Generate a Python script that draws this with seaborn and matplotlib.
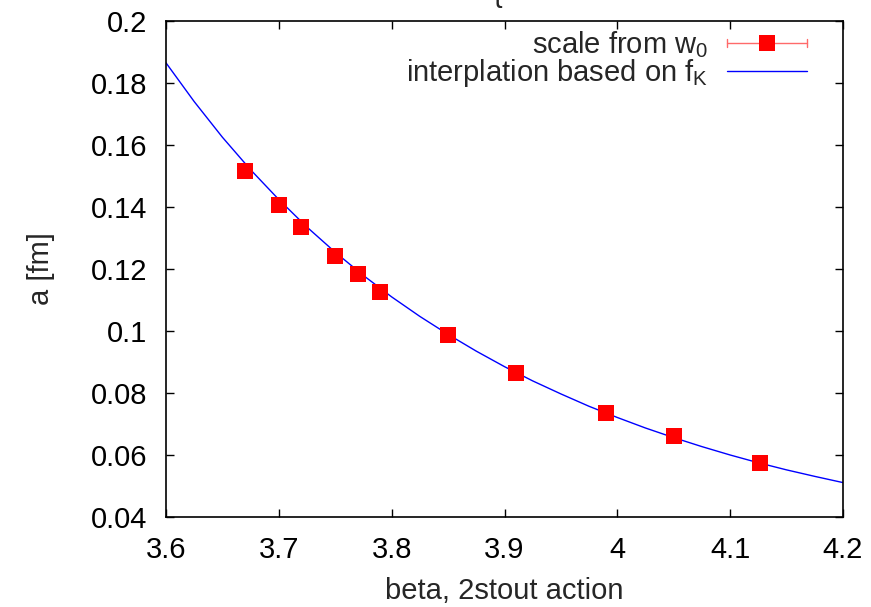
import numpy as np
import pandas as pd
import matplotlib
matplotlib.use("Agg")
import matplotlib.pyplot as plt
from matplotlib.legend_handler import HandlerBase
from matplotlib.lines import Line2D
import seaborn as sns

# ---- data ----
beta_pts = [3.67, 3.70, 3.72, 3.75, 3.77, 3.79, 3.85, 3.91, 3.99, 4.05, 4.126]
a_pts = [0.1516, 0.1406, 0.1335, 0.1242, 0.1184, 0.1126, 0.0987, 0.0865, 0.0735, 0.0661, 0.0574]
# error bars are hidden behind the markers in the reference
a_err = [0.0, 0.0, 0.0, 0.0, 0.0, 0.0, 0.0, 0.0, 0.0, 0.0, 0.0]

beta_curve = [3.600, 3.625, 3.650, 3.675, 3.700, 3.725, 3.750, 3.775, 3.800,
              3.825, 3.850, 3.875, 3.900, 3.925, 3.950, 3.975, 4.000, 4.025,
              4.050, 4.075, 4.100, 4.125, 4.150, 4.175, 4.200]
a_curve = [0.1865, 0.1740, 0.1625, 0.1520, 0.1424, 0.1335, 0.1254, 0.1179, 0.1110,
           0.1047, 0.0989, 0.0935, 0.0885, 0.0839, 0.0797, 0.0757, 0.0721, 0.0687,
           0.0656, 0.0627, 0.0600, 0.0575, 0.0552, 0.0531, 0.0511]

x_ticks = [3.6, 3.7, 3.8, 3.9, 4.0, 4.1, 4.2]
x_ticklabels = ["3.6", "3.7", "3.8", "3.9", "4", "4.1", "4.2"]
y_ticks = [0.04, 0.06, 0.08, 0.10, 0.12, 0.14, 0.16, 0.18, 0.20]
y_ticklabels = ["0.04", "0.06", "0.08", "0.1", "0.12", "0.14", "0.16", "0.18", "0.2"]

label_pts = r"scale from w$_\mathregular{0}$"
label_curve = r"interplation based on f$_\mathregular{K}$"

ERR_COLOR = "#ff6a6a"

# ---- style ----
sns.set_style("ticks")
plt.rcParams["font.family"] = ["Liberation Sans", "DejaVu Sans"]
FS = 21


class GnuplotErrorbarHandler(HandlerBase):
    """Legend sample like gnuplot: horizontal bar with end caps and a square."""

    def create_artists(self, legend, orig_handle, xdescent, ydescent, width,
                       height, fontsize, trans):
        y = height / 2.0 - ydescent
        x0 = -xdescent
        x1 = -xdescent + width
        c = 3.0
        arts = [
            Line2D([x0, x1], [y, y], color=ERR_COLOR, lw=1.0),
            Line2D([x0, x0], [y - c, y + c], color=ERR_COLOR, lw=1.0),
            Line2D([x1, x1], [y - c, y + c], color=ERR_COLOR, lw=1.0),
            Line2D([(x0 + x1) / 2.0], [y], marker="s", ms=11.3, mew=0,
                   color="red", ls="none"),
        ]
        for a in arts:
            a.set_transform(trans)
        return arts


fig = plt.figure(figsize=(8.71, 6.07), dpi=100)
ax = fig.add_axes([166 / 871, 1 - 517 / 607, (843 - 166) / 871, (517 - 21) / 607])

df_pts = pd.DataFrame({"beta": beta_pts, "a": a_pts, "err": a_err})
df_curve = pd.DataFrame({"beta": beta_curve, "a": a_curve})

sns.lineplot(data=df_curve, x="beta", y="a", color="blue", lw=1.0, ax=ax,
             label=label_curve, zorder=2)
line_handle = ax.get_lines()[0]

# gnuplot-style errorbar set (bars are zero-length, hidden under the squares)
eb = ax.errorbar(df_pts["beta"], df_pts["a"], yerr=df_pts["err"], fmt="none",
                 ecolor=ERR_COLOR, elinewidth=1.0, zorder=2.5)
sns.scatterplot(data=df_pts, x="beta", y="a", marker="s", s=128, color="red",
                linewidth=0, ax=ax, zorder=3, legend=False)

ax.set_xlim(3.6, 4.2)
ax.set_ylim(0.04, 0.2)
ax.set_xticks(x_ticks)
ax.set_xticklabels(x_ticklabels)
ax.set_yticks(y_ticks)
ax.set_yticklabels(y_ticklabels)
ax.tick_params(direction="in", top=True, right=True, length=6, width=1.0,
               labelsize=FS, colors="black")
ax.tick_params(axis="y", pad=13.5)
ax.tick_params(axis="x", pad=14)
for sp in ax.spines.values():
    sp.set_visible(True)
    sp.set_linewidth(1.2)
    sp.set_color("black")

ax.set_xlabel("beta, 2stout action", fontsize=FS, labelpad=9)
ax.set_ylabel("a [fm]", fontsize=FS, labelpad=26)

HL = 2.75
leg = ax.legend([eb, line_handle], [label_pts, label_curve],
                loc="upper right", bbox_to_anchor=((807 - 166) / 677, (517 - 29) / 496),
                frameon=False, markerfirst=False, fontsize=FS, handlelength=HL,
                handletextpad=0.65, labelspacing=-0.1, borderpad=0, borderaxespad=0,
                handler_map={eb: GnuplotErrorbarHandler()})

# cut-off title remnant at the top edge
fig.text(497 / 871, 1 - 2 / 607, "{", fontsize=FS, ha="center", va="baseline")

fig.savefig("out.png", dpi=100)
